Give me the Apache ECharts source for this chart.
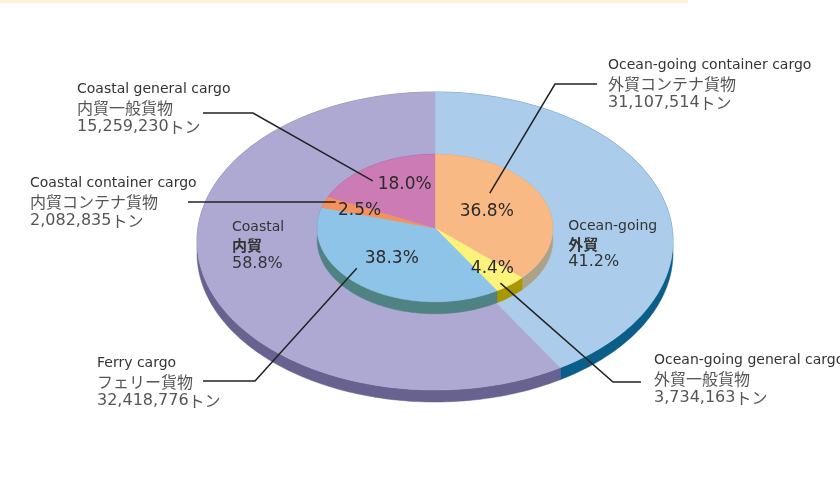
<!DOCTYPE html>
<html>
<head>
<meta charset="utf-8">
<script src="https://cdn.jsdelivr.net/npm/echarts@6/dist/echarts.min.js"></script>
<style>
  html, body { margin: 0; padding: 0; background: #fff; }
  #chart { width: 840px; height: 484px; }
</style>
</head>
<body>
<div id="chart"></div>
<script>
// cargo breakdown (tonnes), inner pie, clockwise from 12 o'clock
const sliceNames = ['Ocean-going container cargo', 'Ocean-going general cargo', 'Ferry cargo', 'Coastal container cargo', 'Coastal general cargo'];
const sliceNamesJa = ['外貿コンテナ貨物', '外貿一般貨物', 'フェリー貨物', '内貿コンテナ貨物', '内貿一般貨物'];
const sliceTonnes = [31107514, 3734163, 32418776, 2082835, 15259230];
const sliceGroup = [0, 0, 1, 1, 1];

// outer ring groups
const groupNames = ['Ocean-going', 'Coastal'];
const groupNamesJa = ['外貿', '内貿'];

const groupTop = ['#abcdeb', '#aea9d3'];
const groupSide = ['#0b5e8a', '#67628f'];
const sliceTop = ['#f9b985', '#fdf27a', '#8ec4e8', '#f4925e', '#cd7bb4'];
const sliceSide = ['#aaa387', '#a89700', '#4f8383', '#a8704f', '#8e5580'];

const INNER_R = 0.495;
const INNER_CY = 0.087;
const DEPTH = 12;

// label layout (percent label nudges, leader lines, text blocks)
const pctShift = [-2.4, -2.2, 4.6, -0.8, 8.8];
const pctRadius = [0.49, 0.73, 0.55, 0.68, 0.64];
const leadStart = [[3, -19], [8, 15], [-35, 10], [-24, -9], [-32, -4]];
const leadElbow = [[555, 84], [613, 382], [255, 381], null, [253, 113]];
const leadEnd = [[597, 84], [641, 382], [203, 381], [188, 202], [203, 113]];
const textPos = [[608, 65], [654, 360], [97, 363], [30, 183], [77, 89]];
const groupLabelPos = [[0.56, -0.02], [-0.853, -0.03]];

const total = sliceTonnes.reduce((a, b) => a + b, 0);
const groupTonnes = groupNames.map((_, g) =>
  sliceTonnes.filter((_, i) => sliceGroup[i] === g).reduce((a, b) => a + b, 0));

function toAngles(values) {
  let acc = 0;
  return values.map((v, i) => {
    const a0 = acc;
    acc += v / total * 360;
    return [a0, acc, i];
  });
}
const outerData = toAngles(groupTonnes);
const innerData = toAngles(sliceTonnes);

function pct(v) {
  return (v / total * 100).toFixed(1) + '%';
}

function arcPoints(api, cy, r, a0, a1) {
  const pts = [];
  const n = Math.max(2, Math.ceil(a1 - a0));
  for (let k = 0; k <= n; k++) {
    const a = (a0 + (a1 - a0) * k / n) * Math.PI / 180;
    pts.push(api.coord([r * Math.sin(a), cy + r * Math.cos(a)]));
  }
  return pts;
}

function sideRenderer(cy, r, colors) {
  return function (params, api) {
    const top = arcPoints(api, cy, r, api.value(0), api.value(1));
    const bottom = top.map(p => [p[0], p[1] + DEPTH]).reverse();
    const c = colors[api.value(2)];
    return { type: 'polygon', shape: { points: top.concat(bottom) }, style: { fill: c, stroke: c, lineWidth: 0.5 } };
  };
}

function topRenderer(cy, r, colors) {
  return function (params, api) {
    const pts = [api.coord([0, cy])].concat(arcPoints(api, cy, r, api.value(0), api.value(1)));
    const c = colors[api.value(2)];
    return { type: 'polygon', shape: { points: pts }, style: { fill: c, stroke: c, lineWidth: 0.5 } };
  };
}

const richText = {
  en: { fontFamily: 'DejaVu Sans', fontSize: 14, fill: '#333', lineHeight: 19 },
  ja: { fontFamily: 'Noto Sans CJK JP', fontSize: 16, fill: '#555', lineHeight: 19 },
  num: { fontFamily: 'DejaVu Sans', fontSize: 16, fill: '#555', lineHeight: 19 }
};

function innerLabelRenderer(params, api) {
  const i = api.value(2);
  const mid = (api.value(0) + api.value(1)) / 2 + pctShift[i];
  const a = mid * Math.PI / 180;
  const r = INNER_R * pctRadius[i];
  const p = api.coord([r * Math.sin(a), INNER_CY + r * Math.cos(a)]);
  const line = [[p[0] + leadStart[i][0], p[1] + leadStart[i][1]]];
  if (leadElbow[i]) line.push(leadElbow[i]);
  line.push(leadEnd[i]);
  return {
    type: 'group',
    children: [
      { type: 'polyline', shape: { points: line }, style: { stroke: '#222', lineWidth: 1.5, fill: null } },
      {
        type: 'text',
        style: {
          x: p[0], y: p[1], text: pct(sliceTonnes[i]), align: 'center', verticalAlign: 'middle',
          fontFamily: 'DejaVu Sans', fontSize: 17, fill: '#2b2b2b'
        }
      },
      {
        type: 'text',
        style: {
          x: textPos[i][0], y: textPos[i][1] - 9.5, align: 'left', verticalAlign: 'top',
          text: '{en|' + sliceNames[i] + '}\n{ja|' + sliceNamesJa[i] + '}\n{num|' +
            sliceTonnes[i].toLocaleString('en-US') + '}{ja|トン}',
          rich: richText
        }
      }
    ]
  };
}

function outerLabelRenderer(params, api) {
  const g = api.value(2);
  const p = api.coord(groupLabelPos[g]);
  return {
    type: 'text',
    style: {
      x: p[0], y: p[1], align: 'left', verticalAlign: 'middle',
      text: '{en|' + groupNames[g] + '}\n{ja|' + groupNamesJa[g] + '}\n{pct|' + pct(groupTonnes[g]) + '}',
      rich: {
        en: { fontFamily: 'DejaVu Sans', fontSize: 14, fill: '#333', lineHeight: 18 },
        ja: { fontFamily: 'Noto Sans CJK JP', fontSize: 15, fontWeight: 'bold', fill: '#333', lineHeight: 18 },
        pct: { fontFamily: 'DejaVu Sans', fontSize: 16, fill: '#333', lineHeight: 18 }
      }
    }
  };
}

const chart = echarts.init(document.getElementById('chart'));
chart.setOption({
  animation: false,
  backgroundColor: '#fff',
  graphic: [{ type: 'rect', shape: { x: 0, y: 0, width: 688, height: 3 }, style: { fill: '#fdf0d6' } }],
  grid: { left: 197, top: 92, width: 476, height: 298 },
  xAxis: { type: 'value', min: -1, max: 1, show: false },
  yAxis: { type: 'value', min: -1, max: 1, show: false },
  series: [
    { type: 'custom', z: 2, clip: false, data: outerData, renderItem: sideRenderer(0, 1, groupSide) },
    { type: 'custom', z: 3, clip: false, data: outerData, renderItem: topRenderer(0, 1, groupTop) },
    { type: 'custom', z: 4, clip: false, data: innerData, renderItem: sideRenderer(INNER_CY, INNER_R, sliceSide) },
    { type: 'custom', z: 5, clip: false, data: innerData, renderItem: topRenderer(INNER_CY, INNER_R, sliceTop) },
    { type: 'custom', z: 6, clip: false, data: outerData, renderItem: outerLabelRenderer },
    { type: 'custom', z: 7, clip: false, data: innerData, renderItem: innerLabelRenderer }
  ]
});
</script>
</body>
</html>
